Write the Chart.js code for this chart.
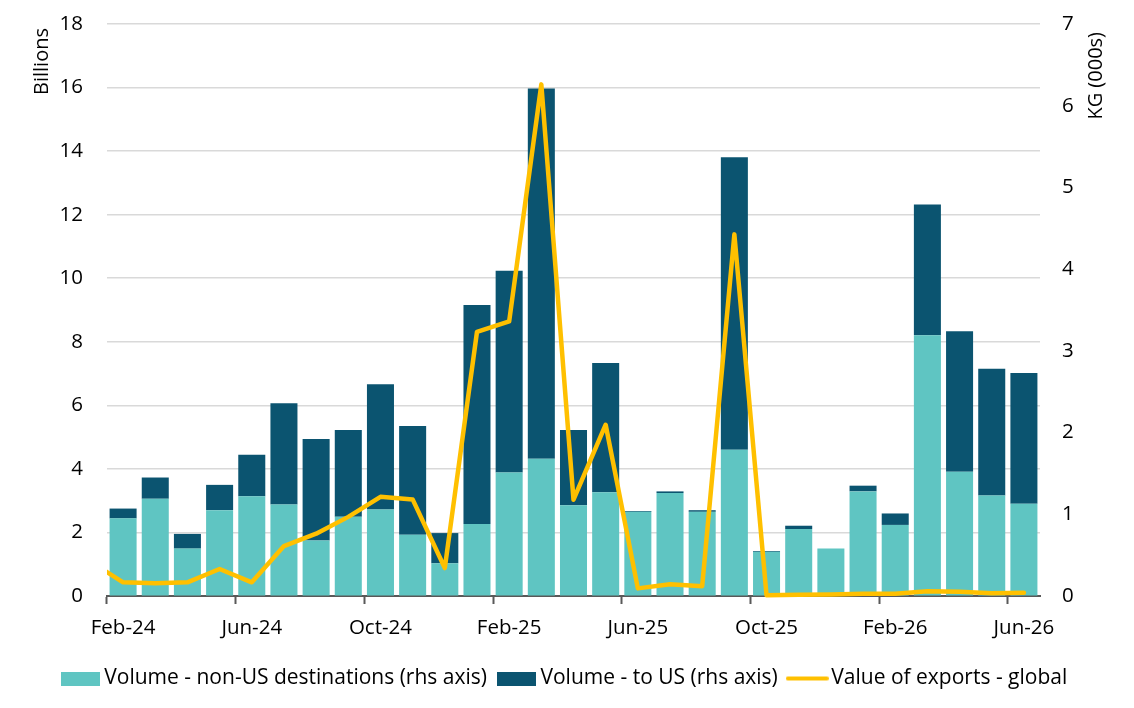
<!DOCTYPE html>
<html>
<head>
<meta charset="utf-8">
<script src="https://cdn.jsdelivr.net/npm/chart.js@4.4.1/dist/chart.umd.min.js"></script>
<style>
  html, body { margin: 0; padding: 0; background: #fff; }
  #wrap { width: 1134px; height: 708px; }
</style>
</head>
<body>
<div id="wrap"><canvas id="myChart" width="1134" height="708"></canvas></div>
<script>
    // months on the category axis, Feb-24 .. Jun-26
    var months = ['Feb-24', 'Mar-24', 'Apr-24', 'May-24', 'Jun-24', 'Jul-24', 'Aug-24', 'Sep-24', 'Oct-24', 'Nov-24', 'Dec-24',
        'Jan-25', 'Feb-25', 'Mar-25', 'Apr-25', 'May-25', 'Jun-25', 'Jul-25', 'Aug-25', 'Sep-25', 'Oct-25', 'Nov-25', 'Dec-25',
        'Jan-26', 'Feb-26', 'Mar-26', 'Apr-26', 'May-26', 'Jun-26']

    // KG (000s), right axis
    var volumeNonUS = [0.95, 1.19, 0.58, 1.05, 1.22, 1.12, 0.68, 0.97, 1.06, 0.75, 0.40,
        0.88, 1.51, 1.68, 1.11, 1.27, 1.03, 1.26, 1.03, 1.79, 0.54, 0.82, 0.58,
        1.28, 0.87, 3.19, 1.52, 1.23, 1.13]
    var volumeUS = [0.12, 0.26, 0.18, 0.31, 0.51, 1.24, 1.24, 1.06, 1.53, 1.33, 0.37,
        2.68, 2.47, 4.53, 0.92, 1.58, 0.01, 0.02, 0.02, 3.58, 0.01, 0.04, 0,
        0.07, 0.14, 1.60, 1.72, 1.55, 1.60]

    // Billions, left axis. first value is Jan-24 (just off the left edge)
    var exportValue = [1.07, 0.43, 0.40, 0.43, 0.85, 0.43, 1.57, 1.96, 2.49, 3.12, 3.04, 0.88,
        8.31, 8.64, 16.1, 3.03, 5.39, 0.24, 0.37, 0.31, 11.38, 0.02, 0.04, 0.05,
        0.07, 0.07, 0.15, 0.13, 0.09, 0.10]

    var leftTicks = [0, 2, 4, 6, 8, 10, 12, 14, 16, 18]
    var rightTicks = [0, 1, 2, 3, 4, 5, 6, 7]

    var teal = '#5fc5c2'
    var navy = '#0b5470'
    var gold = '#ffc000'
    var fontName = "'Open Sans', sans-serif"
    var clear = 'rgba(0,0,0,0)'

    var linePoints = exportValue.map(function(v, i) { return {x: i - 1, y: v} })

    function swatch(w, h, color, isLine) {
        var c = document.createElement('canvas')
        c.width = w
        c.height = h
        var g = c.getContext('2d')
        if (isLine) {
            g.strokeStyle = color
            g.lineWidth = 4
            g.lineCap = 'round'
            g.beginPath()
            g.moveTo(2, h / 2)
            g.lineTo(w - 2, h / 2)
            g.stroke()
        } else {
            g.fillStyle = color
            g.fillRect(0, 0, w, h)
        }
        return c
    }
    var swatches = [swatch(39, 14, teal, false), swatch(39, 14, navy, false), swatch(43, 14, gold, true)]

    // axis titles read bottom-to-top on both sides
    var axisTitles = {
        id: 'axisTitles',
        afterDraw: function(chart) {
            var ctx = chart.ctx
            ctx.save()
            ctx.font = '20px ' + fontName
            ctx.fillStyle = '#000'
            ctx.textAlign = 'right'
            ctx.textBaseline = 'middle'
            ctx.translate(42, 28)
            ctx.rotate(-Math.PI / 2)
            ctx.fillText('Billions', 0, 0)
            ctx.restore()
            ctx.save()
            ctx.font = '20px ' + fontName
            ctx.fillStyle = '#000'
            ctx.textAlign = 'right'
            ctx.textBaseline = 'middle'
            ctx.translate(1096, 32)
            ctx.rotate(-Math.PI / 2)
            ctx.fillText('KG (000s)', 0, 0)
            ctx.restore()
        }
    }

    var ctx = document.getElementById('myChart').getContext('2d');
    var myChart = new Chart(ctx, {
        type: 'bar',
        data: {
            labels: months,
            datasets: [{
                label: 'Volume - non-US destinations (rhs axis)',
                data: volumeNonUS,
                backgroundColor: teal,
                yAxisID: 'y1',
                xAxisID: 'x',
                grouped: false,
                barPercentage: 0.84,
                categoryPercentage: 1,
                order: 1
            }, {
                label: 'Volume - to US (rhs axis)',
                data: volumeUS,
                backgroundColor: navy,
                yAxisID: 'y1',
                xAxisID: 'x',
                grouped: false,
                barPercentage: 0.84,
                categoryPercentage: 1,
                order: 1
            }, {
                type: 'line',
                label: 'Value of exports - global',
                data: linePoints,
                borderColor: gold,
                backgroundColor: gold,
                borderWidth: 4.5,
                borderJoinStyle: 'round',
                borderCapStyle: 'round',
                tension: 0,
                pointRadius: 0,
                fill: false,
                yAxisID: 'y',
                xAxisID: 'x2',
                clip: {left: 0, right: 0, top: false, bottom: false},
                order: 0
            }]
        },
        options: {
            responsive: false,
            animation: false,
            layout: {
                padding: {top: 24, left: 0, right: 0, bottom: 9}
            },
            plugins: {
                tooltip: {enabled: false},
                legend: {
                    position: 'bottom',
                    labels: {
                        usePointStyle: true,
                        pointStyleWidth: 27,
                        boxHeight: 14,
                        padding: 16,
                        color: '#000',
                        font: {family: fontName, size: 21},
                        sort: function(a, b) { return a.datasetIndex - b.datasetIndex },
                        generateLabels: function(chart) {
                            var items = Chart.defaults.plugins.legend.labels.generateLabels(chart)
                            items.forEach(function(it) { it.pointStyle = swatches[it.datasetIndex] })
                            return items
                        }
                    }
                }
            },
            scales: {
                x: {
                    type: 'category',
                    stacked: true,
                    offset: true,
                    grid: {
                        offset: true,
                        drawOnChartArea: false,
                        tickLength: 8,
                        tickWidth: 2,
                        tickColor: function(c) { return c.index % 4 === 0 ? '#595959' : clear }
                    },
                    border: {color: '#595959', width: 2},
                    ticks: {
                        autoSkip: false,
                        maxRotation: 0,
                        padding: 12,
                        color: '#000',
                        font: {family: fontName, size: 20.5},
                        callback: function(value, index) {
                            return index % 4 === 0 ? this.getLabelForValue(value) : ''
                        }
                    },
                    afterFit: function(scale) { scale.height = 56 }
                },
                x2: {
                    type: 'linear',
                    display: false,
                    offset: false,
                    grid: {offset: false},
                    bounds: 'data',
                    min: -0.5,
                    max: months.length - 0.5
                },
                y: {
                    position: 'left',
                    min: leftTicks[0],
                    max: leftTicks[leftTicks.length - 1],
                    afterBuildTicks: function(scale) {
                        scale.ticks = leftTicks.map(function(v) { return {value: v} })
                    },
                    grid: {color: '#d9d9d9', lineWidth: 1.5, drawTicks: true, tickLength: 24, tickColor: clear},
                    border: {display: false},
                    ticks: {
                        padding: 0,
                        color: '#000',
                        font: {family: fontName, size: 20.5}
                    },
                    afterFit: function(scale) { scale.width = 107 }
                },
                y1: {
                    position: 'right',
                    stacked: true,
                    min: rightTicks[0],
                    max: rightTicks[rightTicks.length - 1],
                    afterBuildTicks: function(scale) {
                        scale.ticks = rightTicks.map(function(v) { return {value: v} })
                    },
                    grid: {drawOnChartArea: false, drawTicks: true, tickLength: 22, tickColor: clear},
                    border: {display: false},
                    ticks: {
                        padding: 0,
                        color: '#000',
                        font: {family: fontName, size: 20.5}
                    },
                    afterFit: function(scale) { scale.width = 94 }
                }
            }
        },
        plugins: [axisTitles]
    });
</script>
</body>
</html>
